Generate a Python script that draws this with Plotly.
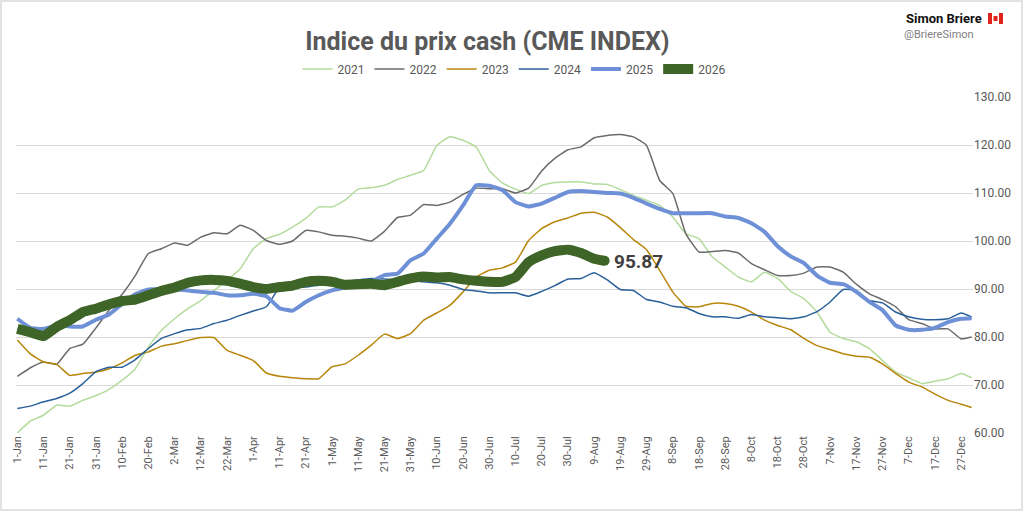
import plotly.graph_objects as go

# jour de l'annee (0 = 1-Jan), un point tous les 5 jours
DAYS = list(range(0, 365, 5)) + [364]
DAYS_2026 = list(range(0, 221, 5)) + [224]

TICK_DAYS = list(range(0, 361, 10))
TICK_LABELS = ["1-Jan", "11-Jan", "21-Jan", "31-Jan", "10-Feb", "20-Feb", "2-Mar", "12-Mar",
               "22-Mar", "1-Apr", "11-Apr", "21-Apr", "1-May", "11-May", "21-May", "31-May",
               "10-Jun", "20-Jun", "30-Jun", "10-Jul", "20-Jul", "30-Jul", "9-Aug", "19-Aug",
               "29-Aug", "8-Sep", "18-Sep", "28-Sep", "8-Oct", "18-Oct", "28-Oct", "7-Nov",
               "17-Nov", "27-Nov", "7-Dec", "17-Dec", "27-Dec"]

y2021 = [60.0, 62.5, 63.7, 65.8, 65.6, 66.8, 67.8, 69.1, 71.0, 73.4, 77.9, 81.4, 83.8, 85.9, 87.6,
         89.7, 91.8, 94.2, 98.4, 100.5, 101.4, 102.9, 104.7, 107.1, 107.1, 108.5, 110.8, 111.1,
         111.6, 112.8, 113.7, 114.7, 119.9, 121.7, 121.0, 119.6, 114.7, 112.1, 110.8, 109.9,
         111.6, 112.2, 112.3, 112.3, 111.9, 111.8, 110.7, 109.5, 108.5, 107.4, 105.0, 101.5,
         100.5, 96.7, 94.6, 92.5, 91.5, 93.5, 92.2, 89.5, 88.0, 85.2, 81.0, 79.7, 79.0, 77.6,
         75.1, 72.7, 71.5, 70.3, 70.8, 71.3, 72.4, 71.5]
y2022 = [71.8, 73.6, 74.8, 74.3, 77.6, 78.5, 81.9, 85.6, 88.9, 92.8, 97.4, 98.4, 99.6, 99.1,
         100.8, 101.7, 101.5, 103.3, 102.2, 100.1, 99.3, 100.0, 102.2, 101.9, 101.2, 101.0,
         100.6, 100.0, 102.0, 104.9, 105.4, 107.6, 107.4, 108.1, 109.7, 111.0, 110.9, 110.9,
         110.0, 111.0, 114.6, 117.2, 119.0, 119.6, 121.5, 122.0, 122.2, 121.7, 119.9, 112.6,
         109.9, 101.5, 97.7, 97.8, 98.0, 97.5, 95.3, 94.0, 92.8, 92.8, 93.3, 94.6, 94.6, 93.5,
         91.0, 89.0, 87.8, 86.3, 83.6, 82.8, 81.7, 81.7, 79.6, 80.0]
y2023 = [79.4, 76.5, 74.8, 74.3, 72.0, 72.4, 72.7, 73.4, 74.6, 76.2, 76.9, 78.1, 78.6, 79.3,
         79.9, 79.9, 77.2, 76.2, 75.1, 72.5, 71.8, 71.5, 71.3, 71.3, 73.8, 74.4, 76.2, 78.3,
         80.6, 79.7, 80.7, 83.5, 85.0, 86.6, 89.4, 92.5, 93.9, 94.4, 95.6, 100.1, 102.6, 104.0,
         104.8, 105.8, 106.0, 105.0, 102.8, 100.3, 98.2, 93.9, 89.4, 86.4, 86.3, 87.0, 87.0,
         86.4, 85.2, 83.5, 82.4, 81.5, 79.7, 78.2, 77.4, 76.5, 76.0, 75.8, 74.4, 72.4, 70.6,
         69.6, 68.1, 66.8, 66.0, 65.3]
y2024 = [65.1, 65.6, 66.5, 67.2, 68.3, 70.3, 72.8, 73.7, 73.7, 75.3, 77.6, 79.7, 80.7, 81.5,
         81.8, 82.8, 83.5, 84.5, 85.4, 86.3, 90.3, 90.4, 90.4, 90.8, 91.1, 91.5, 91.9, 92.2,
         92.1, 91.9, 91.8, 91.5, 91.3, 90.8, 89.9, 89.6, 89.2, 89.2, 89.2, 88.5, 89.5, 90.7,
         92.1, 92.2, 93.4, 91.9, 89.9, 89.7, 87.8, 87.3, 86.4, 86.1, 84.9, 84.2, 84.2, 83.9,
         84.7, 84.2, 84.0, 83.8, 84.2, 85.3, 87.3, 89.9, 89.7, 87.6, 87.1, 85.2, 84.2, 83.7,
         83.6, 83.8, 85.0, 84.2]
y2025 = [83.8, 81.9, 81.7, 82.4, 82.2, 82.2, 83.6, 84.7, 86.9, 88.9, 89.9, 89.9, 89.9, 89.7,
         89.4, 89.2, 88.7, 88.7, 89.0, 88.5, 86.0, 85.5, 87.3, 88.7, 89.7, 90.3, 90.8, 91.5,
         92.9, 93.2, 96.0, 97.4, 100.5, 103.6, 107.4, 111.6, 111.5, 110.6, 108.1, 107.2, 107.8,
         109.0, 110.2, 110.4, 110.2, 110.0, 109.9, 109.0, 107.8, 106.7, 105.8, 105.8, 105.8,
         105.8, 105.1, 104.8, 103.7, 101.9, 98.9, 96.8, 95.4, 92.8, 91.3, 91.0, 89.4, 87.3,
         85.6, 82.4, 81.5, 81.5, 81.9, 83.1, 83.8, 83.9]
y2026 = [81.7, 81.0, 80.2, 82.1, 83.5, 85.2, 85.9, 86.8, 87.5, 87.8, 88.7, 89.6, 90.3, 91.3,
         91.8, 91.9, 91.7, 91.1, 90.4, 90.0, 90.4, 90.7, 91.5, 91.7, 91.5, 90.9, 91.0, 91.1,
         90.8, 91.5, 92.2, 92.6, 92.4, 92.5, 92.0, 91.7, 91.5, 91.5, 92.5, 95.6, 97.0, 97.9,
         98.2, 97.5, 96.3, 95.87]

GRIS = "#595959"

fig = go.Figure()
series = [
    ("2021", DAYS, y2021, "#B4DB9C", 1.5),
    ("2022", DAYS, y2022, "#6B6B6B", 1.5),
    ("2023", DAYS, y2023, "#B8860B", 1.5),
    ("2024", DAYS, y2024, "#2A6099", 1.5),
    ("2025", DAYS, y2025, "#6E90D6", 4),
    ("2026", DAYS_2026, y2026, "#3E6427", 10),
]
for name, x, y, col, w in series:
    fig.add_trace(go.Scatter(x=x, y=y, mode="lines", name=name,
                             line=dict(color=col, width=w, shape="spline", smoothing=0.4)))

# bout arrondi de la serie 2026
fig.add_trace(go.Scatter(x=[DAYS_2026[-1]], y=[y2026[-1]], mode="markers", showlegend=False,
                         marker=dict(color="#3E6427", size=10), hoverinfo="skip"))

fig.add_annotation(x=DAYS_2026[-1], y=y2026[-1], text="<b>%.2f</b>" % y2026[-1], showarrow=False,
                   xanchor="left", xshift=7, yshift=-1,
                   font=dict(size=19, color="#404040", family="Roboto"))

W, H = 1024, 513
L, R, T, B = 16, 51, 97, 80
pw, ph = W - L - R, H - T - B


def px(x):
    return (x - L) / pw


def py(y):
    return (H - B - y) / ph


# signature en haut a droite
fig.add_annotation(xref="paper", yref="paper", x=px(984), y=py(19), text="<b>Simon Briere</b>",
                   showarrow=False, xanchor="right", yanchor="middle",
                   font=dict(size=13, color="#111111", family="Roboto"))
fig.add_annotation(xref="paper", yref="paper", x=px(902), y=py(34), text="@BriereSimon",
                   showarrow=False, xanchor="left", yanchor="middle",
                   font=dict(size=11, color="#7F7F7F", family="Roboto"))

# drapeau
fig.add_shape(type="rect", xref="paper", yref="paper", x0=px(988), x1=px(1003), y0=py(24), y1=py(13),
              fillcolor="#E0241B", line_width=0)
fig.add_shape(type="rect", xref="paper", yref="paper", x0=px(992), x1=px(999), y0=py(24), y1=py(13),
              fillcolor="white", line_width=0)
fig.add_shape(type="rect", xref="paper", yref="paper", x0=px(993.5), x1=px(997.5), y0=py(21), y1=py(16),
              fillcolor="#E0241B", line_width=0)
# cadre du graphique
fig.add_shape(type="rect", xref="paper", yref="paper", x0=px(1), x1=px(1022), y0=py(510), y1=py(1),
              line=dict(color="#D9D9D9", width=1.5), fillcolor="rgba(0,0,0,0)")

fig.update_layout(
    width=W, height=H,
    margin=dict(l=L, r=R, t=T, b=B, autoexpand=False),
    paper_bgcolor="white", plot_bgcolor="white",
    title=dict(text="<b>Indice du prix cash (CME INDEX)</b>", x=0.476, xanchor="center",
               y=1 - 41 / H, yanchor="middle", yref="container",
               font=dict(size=25, color=GRIS, family="Roboto")),
    legend=dict(orientation="h", x=px(514), xanchor="center", y=py(69), yanchor="middle",
                font=dict(size=12, color=GRIS, family="Roboto"), itemwidth=30,
                bgcolor="rgba(0,0,0,0)"),
    showlegend=True,
    font=dict(family="Roboto", color=GRIS),
)
fig.update_xaxes(range=[-0.5, 364.5], tickvals=TICK_DAYS, ticktext=TICK_LABELS, tickangle=-90,
                 showgrid=False, zeroline=False, showline=False, ticks="",
                 tickfont=dict(size=11, color=GRIS, family="Roboto"))
fig.update_yaxes(range=[60, 130], dtick=10, tickformat=".2f", side="right", showgrid=True,
                 gridcolor="#D9D9D9", gridwidth=1.2, zeroline=False, showline=False, ticks="",
                 tickfont=dict(size=12, color=GRIS, family="Roboto"))

# pas de marge du navigateur autour du graphique
fig.write_html("out.html", config={"displayModeBar": False},
               post_script="document.body.style.margin='0';")
